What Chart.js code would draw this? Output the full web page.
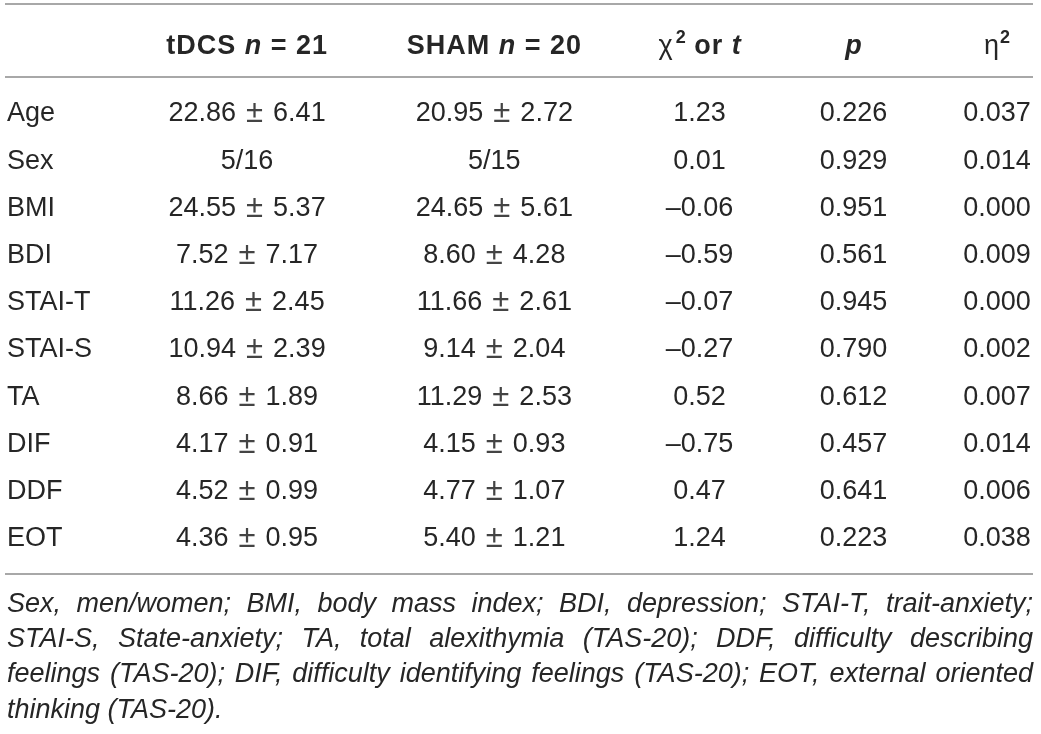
<!DOCTYPE html>
<html>
<head>
<meta charset="utf-8">
<script src="https://cdn.jsdelivr.net/npm/chart.js@4"></script>
<style>
html,body{margin:0;padding:0;background:#fff;}
#c{display:block;}
</style>
</head>
<body>
<canvas id="c" width="1041" height="734"></canvas>
<script>
// ---------- data ----------
const rowLabels = ['Age','Sex','BMI','BDI','STAI-T','STAI-S','TA','DIF','DDF','EOT'];
const groupNames = ['tDCS','SHAM'];
const groupN = [21, 20];
const tdcsMean = [22.86, null, 24.55, 7.52, 11.26, 10.94, 8.66, 4.17, 4.52, 4.36];
const tdcsSD   = [6.41, null, 5.37, 7.17, 2.45, 2.39, 1.89, 0.91, 0.99, 0.95];
const shamMean = [20.95, null, 24.65, 8.60, 11.66, 9.14, 11.29, 4.15, 4.77, 5.40];
const shamSD   = [2.72, null, 5.61, 4.28, 2.61, 2.04, 2.53, 0.93, 1.07, 1.21];
const tdcsSex  = [5, 16];   // men/women
const shamSex  = [5, 15];
const statValues = [1.23, 0.01, -0.06, -0.59, -0.07, -0.27, 0.52, -0.75, 0.47, 1.24];
const pValues    = [0.226, 0.929, 0.951, 0.561, 0.945, 0.790, 0.612, 0.457, 0.641, 0.223];
const etaValues  = [0.037, 0.014, 0.000, 0.009, 0.000, 0.002, 0.007, 0.014, 0.006, 0.038];
const footnoteLines = [
  'Sex, men/women; BMI, body mass index; BDI, depression; STAI-T, trait-anxiety;',
  'STAI-S, State-anxiety; TA, total alexithymia (TAS-20); DDF, difficulty describing',
  'feelings (TAS-20); DIF, difficulty identifying feelings (TAS-20); EOT, external oriented',
  'thinking (TAS-20).'
];

// ---------- layout / style ----------
const FAM = '"Liberation Sans", Arial, Helvetica, sans-serif';
const FS = 27;
const F_REG = `${FS}px ${FAM}`;
const F_PM = `31px ${FAM}`;
const F_BOLD = `bold ${FS}px ${FAM}`;
const F_BI = `italic bold ${FS}px ${FAM}`;
const F_SUP = `bold 18px ${FAM}`;
const F_NOTE = `italic ${FS}px ${FAM}`;
const TEXT = '#262626';
const PM_COLOR = '#444444';
const RULE = '#a8a8a8';
// column anchors on the hidden 0..1 x scale (layout only)
const colAnchor = [0, 0.234, 0.475, 0.675, 0.825, 0.965];

const fmtSigned = (v, d) => (v < 0 ? '\u2013' : '') + Math.abs(v).toFixed(d);
function meanSdRuns(m, s) {
  return [{t: m.toFixed(2), f: F_REG}, {t: '\u00b1', f: F_PM, pre: 10, dy: 1, c: PM_COLOR}, {t: s.toFixed(2), f: F_REG, pre: 10}];
}
function cellRuns(col, i) {
  switch (col) {
    case 0: return [{t: rowLabels[i], f: F_REG}];
    case 1: return tdcsMean[i] === null ? [{t: tdcsSex.join('/'), f: F_REG}] : meanSdRuns(tdcsMean[i], tdcsSD[i]);
    case 2: return shamMean[i] === null ? [{t: shamSex.join('/'), f: F_REG}] : meanSdRuns(shamMean[i], shamSD[i]);
    case 3: return [{t: fmtSigned(statValues[i], 2), f: F_REG}];
    case 4: return [{t: pValues[i].toFixed(3), f: F_REG}];
    case 5: return [{t: etaValues[i].toFixed(3), f: F_REG}];
  }
}
const LS = '1px';
const headerRuns = [
  null,
  [{t: groupNames[0] + ' ', f: F_BOLD, ls: LS}, {t: 'n', f: F_BI, ls: LS}, {t: ' = ' + groupN[0], f: F_BOLD, ls: LS}],
  [{t: groupNames[1] + ' ', f: F_BOLD, ls: LS}, {t: 'n', f: F_BI, ls: LS}, {t: ' = ' + groupN[1], f: F_BOLD, ls: LS}],
  [{t: '\u03c7', f: F_REG}, {t: '2', f: F_SUP, dy: -11, pre: 3}, {t: ' or ', f: F_BOLD, ls: LS}, {t: 't', f: F_BI}],
  [{t: 'p', f: F_BI}],
  [{t: '\u03b7', f: F_REG}, {t: '2', f: F_SUP, dy: -11, pre: 1}]
];

function drawRuns(ctx, runs, x, base, align) {
  let w = 0;
  runs.forEach(r => {
    ctx.font = r.f; ctx.letterSpacing = r.ls || '0px';
    r.w = ctx.measureText(r.t).width; w += r.w + (r.pre || 0);
  });
  let sx = align === 'left' ? x : (align === 'right' ? x - w : x - w / 2);
  ctx.textAlign = 'left';
  runs.forEach(r => {
    sx += (r.pre || 0);
    ctx.font = r.f; ctx.letterSpacing = r.ls || '0px';
    ctx.fillStyle = r.c || TEXT;
    ctx.fillText(r.t, sx, base + (r.dy || 0));
    sx += r.w;
  });
  ctx.letterSpacing = '0px';
  ctx.fillStyle = TEXT;
}

function drawJustified(ctx, line, x0, x1, base, justify) {
  ctx.textAlign = 'left';
  if (!justify) { ctx.fillText(line, x0, base); return; }
  const words = line.split(' ');
  const widths = words.map(w => ctx.measureText(w).width);
  const sum = widths.reduce((a, b) => a + b, 0);
  const gap = Math.max(3, (x1 - x0 - sum) / (words.length - 1));
  let x = x0;
  words.forEach((w, k) => { ctx.fillText(w, x, base); x += widths[k] + gap; });
}

const tablePlugin = {
  id: 'tablePlugin',
  afterDraw(chart) {
    const {ctx, chartArea, scales} = chart;
    const xs = scales.x, ys = scales.y;
    const pitch = ys.getPixelForValue(1) - ys.getPixelForValue(0);
    const capHalf = FS * 0.36;
    const left = xs.getPixelForValue(0), right = xs.getPixelForValue(1);
    ctx.save();
    // rules
    ctx.strokeStyle = RULE;
    ctx.lineWidth = 2;
    const headerY = ys.getPixelForValue(0) - pitch * 1.43;
    const rules = [headerY - pitch * 0.85, chartArea.top - 11, chartArea.bottom + 14];
    rules.forEach(y => {
      ctx.beginPath(); ctx.moveTo(left - 2, y); ctx.lineTo(right, y); ctx.stroke();
    });
    ctx.fillStyle = TEXT;
    // header
    for (let c = 1; c < colAnchor.length; c++) {
      drawRuns(ctx, headerRuns[c], xs.getPixelForValue(colAnchor[c]), headerY + capHalf, 'center');
    }
    // body
    rowLabels.forEach((lab, i) => {
      const y = ys.getPixelForValue(i) + capHalf;
      for (let c = 0; c < colAnchor.length; c++) {
        drawRuns(ctx, cellRuns(c, i), xs.getPixelForValue(colAnchor[c]), y, c === 0 ? 'left' : 'center');
      }
    });
    // footnote
    ctx.font = F_NOTE;
    ctx.fillStyle = TEXT;
    const noteTop = chartArea.bottom + 14;
    footnoteLines.forEach((ln, k) => {
      const y = noteTop + 28 + k * 35.3 + capHalf;
      drawJustified(ctx, ln, left, right, y, k < footnoteLines.length - 1);
    });
    ctx.restore();
  }
};

new Chart(document.getElementById('c'), {
  type: 'scatter',
  data: { datasets: [] },
  options: {
    responsive: false,
    animation: false,
    layout: { padding: { left: 7, right: 8, top: 88, bottom: 174 } },
    plugins: { legend: { display: false }, tooltip: { enabled: false } },
    scales: {
      x: { type: 'linear', min: 0, max: 1, display: false },
      y: { type: 'category', labels: rowLabels, offset: true, display: false }
    }
  },
  plugins: [tablePlugin]
});
</script>
</body>
</html>
